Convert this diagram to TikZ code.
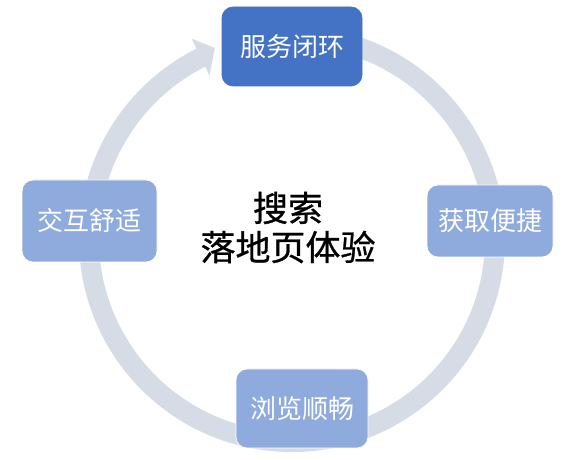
\documentclass[tikz,border=0pt]{standalone}
\usepackage{fontspec}
\setmainfont{Noto Sans CJK SC}
\newfontfamily\heavycjk[FakeBold=0.8]{Noto Sans CJK SC}
\usetikzlibrary{calc}
\definecolor{ringc}{HTML}{D6DCE5}
\definecolor{darkb}{HTML}{4472C4}
\definecolor{lightb}{HTML}{8FAADC}
\begin{document}
\begin{tikzpicture}[x=1pt,y=1pt,
  box/.style={rounded corners=11pt, draw=white, line width=0.7pt, text=white,
    font=\fontsize{26}{30}\selectfont, inner sep=0pt},
  center text/.style={text=black, font=\heavycjk\fontsize{35}{40}\selectfont, inner sep=0pt}]
\useasboundingbox (0,0) rectangle (576,460);
\fill[white] (0,0) rectangle (576,460);
\coordinate (C) at (292,221);
% ring arrow
\draw[ringc, line width=20pt] ($(C)+(80:203)$) arc[start angle=80, end angle=-244, radius=203];
\fill[ringc] ($(C)+(116.6:224)$) -- ($(C)+(112:206)$) -- ($(C)+(116.8:183)$) -- cycle;
% boxes
\node[box, fill=darkb, draw=darkb, minimum width=140pt, minimum height=79pt] (top) at (292,413.5) {服务闭环};
\node[box, fill=lightb, minimum width=135pt, minimum height=82pt] (left) at (89.5,239) {交互舒适};
\node[box, fill=lightb, minimum width=126pt, minimum height=72pt] (right) at (490,239) {获取便捷};
\node[box, fill=lightb, minimum width=132pt, minimum height=79pt] (bottom) at (302,51.5) {浏览顺畅};
% centre text
\node[center text] (line1) at (288,252) {搜索};
\node[center text] (line2) at (288,213) {落地页体验};
\end{tikzpicture}
\end{document}
